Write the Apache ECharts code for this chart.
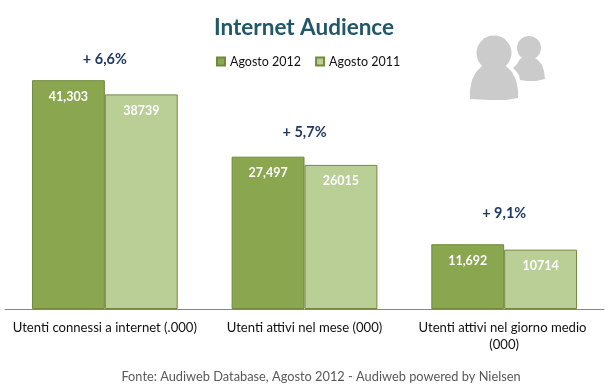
<!DOCTYPE html>
<html><head><meta charset="utf-8">
<script src="https://cdn.jsdelivr.net/npm/echarts@6/dist/echarts.min.js"></script>
<style>html,body{margin:0;padding:0;background:#fff}#c{width:609px;height:390px}</style>
</head><body><div id="c"></div>
<script>
const categories = ['Utenti connessi a internet (.000)', 'Utenti attivi nel mese (000)', 'Utenti attivi nel giorno medio (000)'];
const agosto2012 = [41303, 27497, 11692];
const agosto2011 = [38739, 26015, 10714];
const growthLabels = ['+ 6,6%', '+ 5,7%', '+ 9,1%'];
const growthAnchors = [45000, 31900, 17300];
const FONT = 'Lato, "Open Sans", sans-serif';
const chart = echarts.init(document.getElementById('c'), null, {renderer:'canvas'});
const barLabel = fmt => ({show:true, position:'insideTop', distance:10, color:'#fff', fontFamily:FONT, fontWeight:'bold', fontSize:12.5, formatter:fmt});
chart.setOption({
  animation:false,
  backgroundColor:'#fff',
  title:[
    {text:'Internet Audience', left:299, top:11, textAlign:'center', textStyle:{fontFamily:FONT, fontWeight:'bold', fontSize:22.5, color:'#215868'}},
    {text:'Fonte: Audiweb Database, Agosto 2012 - Audiweb powered by Nielsen', left:316, top:365, textAlign:'center', textStyle:{fontFamily:FONT, fontWeight:'normal', fontSize:12.8, color:'#595959'}}
  ],
  legend:{left:211, top:50, itemWidth:8, itemHeight:8, itemGap:14, icon:'rect', data:['Agosto 2012','Agosto 2011'],
    textStyle:{fontFamily:FONT, fontSize:12.5, color:'#111'}},
  grid:{left:5, right:5, top:32, bottom:81},
  xAxis:{type:'category', data:categories, axisTick:{show:false},
    axisLine:{lineStyle:{color:'#868686', width:1}},
    axisLabel:{interval:0, width:190, overflow:'break', margin:10, lineHeight:17, fontFamily:FONT, fontSize:13.1, color:'#111'}},
  yAxis:{type:'value', min:0, max:50000, show:false, splitLine:{show:false}},
  series:[
    {name:'Agosto 2012', type:'bar', data:agosto2012, barGap:0, barCategoryGap:'27%',
      itemStyle:{color:'#8aa64f', borderColor:'#71893f', borderWidth:1},
      label:barLabel(p => p.value.toLocaleString('en-US'))},
    {name:'Agosto 2011', type:'bar', data:agosto2011,
      itemStyle:{color:'#bacf96', borderColor:'#71893f', borderWidth:1},
      label:barLabel(p => String(p.value))},
    {name:'Crescita', type:'scatter', data:growthAnchors, symbolSize:0, silent:true, itemStyle:{opacity:1},
      label:{show:true, position:'inside', opacity:1, color:'#1f3864', fontFamily:FONT, fontWeight:'bold', fontSize:14.5,
        formatter:p => growthLabels[p.dataIndex]}}
  ],
  graphic:[
    {type:'circle', shape:{cx:494, cy:53, r:17.5}, style:{fill:'#cbcbcb'}},
    {type:'polygon', shape:{points:[[470,99],[470,90],[472,80],[476,72],[482,66],[488,63],[494,62],[500,63],[506,66],[512,72],[516,80],[518,90],[518,98],[506,100],[490,100]]}, style:{fill:'#cbcbcb'}},
    {type:'circle', shape:{cx:529, cy:48, r:12}, style:{fill:'#cbcbcb'}},
    {type:'polygon', shape:{points:[[513,68],[517,64],[520,59],[524,57],[533,57],[538,60],[542,65],[544,71],[545,79],[536,81],[527,81],[520,80],[519,75],[516,71]]}, style:{fill:'#cbcbcb'}}
  ]
});
</script></body></html>
